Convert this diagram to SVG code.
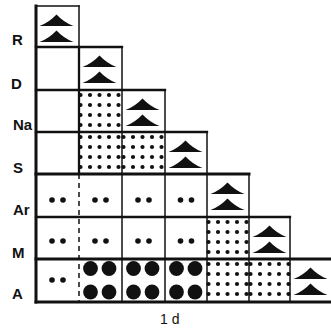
<svg xmlns="http://www.w3.org/2000/svg" xmlns:xlink="http://www.w3.org/1999/xlink" width="331" height="331" viewBox="0 0 331 331">
<style>
.ln{stroke:#111;fill:none;stroke-linecap:square}
.h{stroke-width:2.3}
.v{stroke-width:1.5}
.b{stroke-width:3}
.d{stroke-dasharray:5 4;stroke-linecap:butt}
.f{fill:#111}
.lbl{font-family:"Liberation Sans",Arial,sans-serif;font-weight:bold;font-size:15px;fill:#111}
.ax{font-family:"Liberation Sans",Arial,sans-serif;font-size:14px;fill:#111}
</style>
<defs>
<g id="tri" class="f"><path d="M3.5,20 Q13,16.5 20.5,8.5 Q28,16.5 37.5,20 Z"/><path d="M3.5,36 Q13,32.5 20.5,24.5 Q28,32.5 37.5,36 Z"/></g>
<g id="grid" class="f">
<circle cx="1.5" cy="5" r="2.1"/><circle cx="11" cy="5" r="2.1"/><circle cx="20.5" cy="5" r="2.1"/><circle cx="30" cy="5" r="2.1"/><circle cx="39.5" cy="5" r="2.1"/>
<circle cx="1.5" cy="15" r="2.1"/><circle cx="11" cy="15" r="2.1"/><circle cx="20.5" cy="15" r="2.1"/><circle cx="30" cy="15" r="2.1"/><circle cx="39.5" cy="15" r="2.1"/>
<circle cx="1.5" cy="25" r="2.1"/><circle cx="11" cy="25" r="2.1"/><circle cx="20.5" cy="25" r="2.1"/><circle cx="30" cy="25" r="2.1"/><circle cx="39.5" cy="25" r="2.1"/>
<circle cx="1.5" cy="35" r="2.1"/><circle cx="11" cy="35" r="2.1"/><circle cx="20.5" cy="35" r="2.1"/><circle cx="30" cy="35" r="2.1"/><circle cx="39.5" cy="35" r="2.1"/>
</g>
<g id="two" class="f"><circle cx="-5.5" cy="0" r="2.8"/><circle cx="5.5" cy="0" r="2.8"/></g>
<g id="big" class="f"><circle cx="11.5" cy="9.5" r="7.4"/><circle cx="30" cy="9.5" r="7.4"/><circle cx="11.5" cy="33" r="7.4"/><circle cx="30" cy="33" r="7.4"/></g>
</defs>
<rect width="331" height="331" fill="#fff"/>

<g id="connectors">
<line class="ln v" x1="36" y1="6" x2="79" y2="6"/>
<line class="ln h" x1="36" y1="47" x2="122" y2="47"/>
<line class="ln h" x1="36" y1="90" x2="165" y2="90"/>
<line class="ln h" x1="36" y1="132" x2="207" y2="132"/>
<line class="ln b" x1="36" y1="174" x2="249" y2="174"/>
<line class="ln h" x1="36" y1="217" x2="290" y2="217"/>
<line class="ln b" x1="36" y1="259" x2="331" y2="259"/>
<line class="ln b" x1="36" y1="302" x2="331" y2="302"/>
<line class="ln b" x1="36" y1="6" x2="36" y2="302"/>
<line class="ln v" x1="79" y1="6" x2="79" y2="47"/>
<line class="ln h" x1="79" y1="47" x2="79" y2="174"/>
<line class="ln v d" x1="79" y1="174" x2="79" y2="302"/>
<line class="ln v" x1="122" y1="47" x2="122" y2="302"/>
<line class="ln v" x1="165" y1="90" x2="165" y2="302"/>
<line class="ln v" x1="207" y1="132" x2="207" y2="302"/>
<line class="ln v" x1="249" y1="174" x2="249" y2="302"/>
<line class="ln v" x1="290" y1="217" x2="290" y2="302"/>
</g>

<g id="labels">
<text class="lbl" x="12" y="45">R</text>
<text class="lbl" x="11" y="89">D</text>
<text class="lbl" x="13" y="130">Na</text>
<text class="lbl" x="13" y="173">S</text>
<text class="lbl" x="13" y="215">Ar</text>
<text class="lbl" x="12" y="258">M</text>
<text class="lbl" x="12" y="299">A</text>
<text class="ax" x="160" y="324">1 d</text>
</g>

<g id="R-0"><use xlink:href="#tri" transform="translate(36,6)"/></g>
<g id="D-1"><use xlink:href="#tri" transform="translate(79,47)"/></g>
<g id="Na-1"><use xlink:href="#grid" transform="translate(79,90)"/></g>
<g id="Na-2"><use xlink:href="#tri" transform="translate(122,90)"/></g>
<g id="S-1"><use xlink:href="#grid" transform="translate(79,132)"/></g>
<g id="S-2"><use xlink:href="#grid" transform="translate(122,132)"/></g>
<g id="S-3"><use xlink:href="#tri" transform="translate(165,132)"/></g>
<g id="Ar-0"><use xlink:href="#two" transform="translate(57.5,200)"/></g>
<g id="Ar-1"><use xlink:href="#two" transform="translate(100.5,200)"/></g>
<g id="Ar-2"><use xlink:href="#two" transform="translate(143.5,200)"/></g>
<g id="Ar-3"><use xlink:href="#two" transform="translate(186,200)"/></g>
<g id="Ar-4"><use xlink:href="#tri" transform="translate(207,174)"/></g>
<g id="M-0"><use xlink:href="#two" transform="translate(57.5,241)"/></g>
<g id="M-1"><use xlink:href="#two" transform="translate(100.5,241)"/></g>
<g id="M-2"><use xlink:href="#two" transform="translate(143.5,241)"/></g>
<g id="M-3"><use xlink:href="#two" transform="translate(186,241)"/></g>
<g id="M-4"><use xlink:href="#grid" transform="translate(207,217)"/></g>
<g id="M-5"><use xlink:href="#tri" transform="translate(249,217)"/></g>
<g id="A-0"><use xlink:href="#two" transform="translate(57.5,280)"/></g>
<g id="A-1"><use xlink:href="#big" transform="translate(79,259)"/></g>
<g id="A-2"><use xlink:href="#big" transform="translate(122,259)"/></g>
<g id="A-3"><use xlink:href="#big" transform="translate(165,259)"/></g>
<g id="A-4"><use xlink:href="#grid" transform="translate(207,259)"/></g>
<g id="A-5"><use xlink:href="#grid" transform="translate(249,259)"/></g>
<g id="A-6"><use xlink:href="#tri" transform="translate(290,259)"/></g>
</svg>
